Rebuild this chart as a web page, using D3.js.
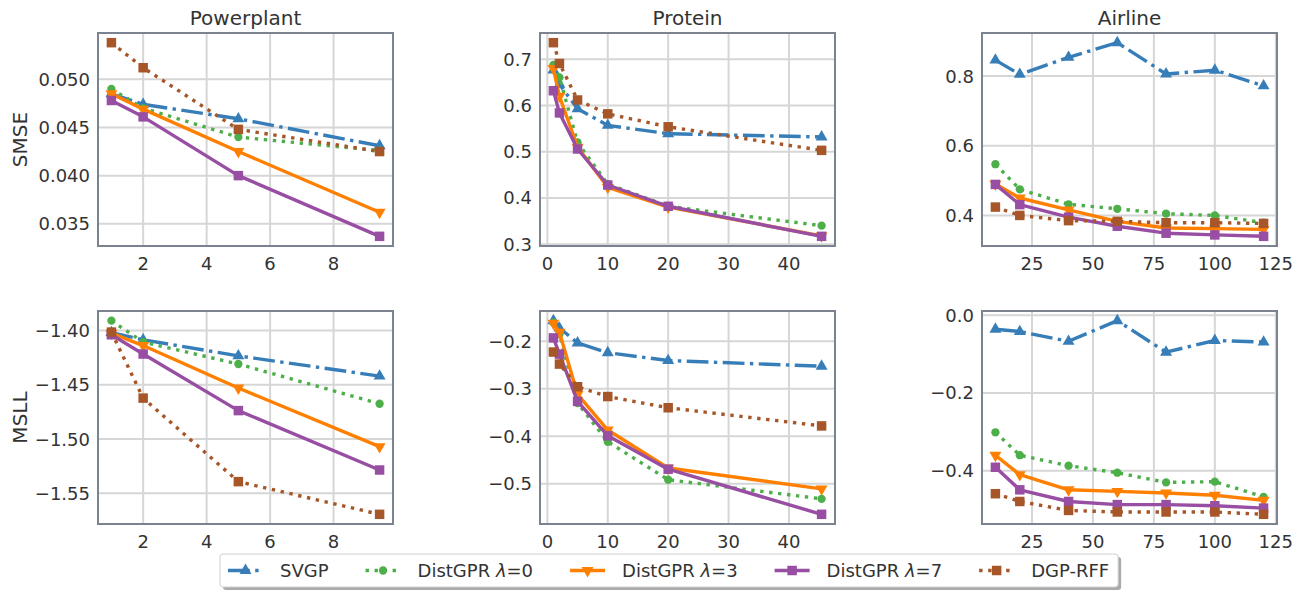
<!DOCTYPE html>
<html>
<head>
<meta charset="utf-8">
<script src="https://cdn.jsdelivr.net/npm/d3@7"></script>
<style>
  body { margin: 0; background: #fff; }
  svg text { font-family: "DejaVu Sans", sans-serif; fill: #333; }
</style>
</head>
<body>
<svg width="1302" height="590"></svg>
<script>
// series, in drawing order
const seriesNames = ["SVGP", "DistGPR λ=0", "DistGPR λ=3", "DistGPR λ=7", "DGP-RFF"];

const xPowerplant = [1, 2, 5, 9.45];
const xProtein = [1, 2, 5, 10, 20, 45.4];
const xAirline = [10, 20, 40, 60, 80, 100, 120];

// one row per series
const powerplantSMSE = [
  [0.0485, 0.0474, 0.0459, 0.0431],
  [0.0490, 0.0470, 0.0440, 0.0426],
  [0.0485, 0.0469, 0.0425, 0.0362],
  [0.0478, 0.0461, 0.0400, 0.0337],
  [0.0538, 0.0512, 0.0448, 0.0425]
];
const proteinSMSE = [
  [0.677, 0.646, 0.593, 0.557, 0.539, 0.532],
  [0.688, 0.661, 0.520, 0.430, 0.382, 0.340],
  [0.680, 0.620, 0.510, 0.423, 0.380, 0.318],
  [0.632, 0.584, 0.506, 0.428, 0.382, 0.317],
  [0.736, 0.691, 0.612, 0.582, 0.554, 0.503]
];
const airlineSMSE = [
  [0.846, 0.805, 0.854, 0.896, 0.806, 0.817, 0.772],
  [0.547, 0.475, 0.432, 0.419, 0.405, 0.400, 0.379],
  [0.490, 0.450, 0.416, 0.383, 0.364, 0.362, 0.360],
  [0.489, 0.431, 0.395, 0.369, 0.349, 0.344, 0.340],
  [0.424, 0.400, 0.385, 0.383, 0.379, 0.379, 0.377]
];
const powerplantMSLL = [
  [-1.402, -1.4086, -1.4234, -1.442],
  [-1.391, -1.4107, -1.4309, -1.4675],
  [-1.4025, -1.4139, -1.453, -1.507],
  [-1.404, -1.4217, -1.4738, -1.5285],
  [-1.4015, -1.4623, -1.5392, -1.5693]
];
const proteinMSLL = [
  [-0.1565, -0.172, -0.2034, -0.224, -0.2405, -0.2525],
  [-0.1607, -0.185, -0.330, -0.4117, -0.4917, -0.532],
  [-0.162, -0.181, -0.312, -0.387, -0.467, -0.511],
  [-0.1928, -0.2269, -0.3265, -0.3992, -0.4695, -0.5646],
  [-0.2226, -0.248, -0.2957, -0.3164, -0.340, -0.3783]
];
const airlineMSLL = [
  [-0.036, -0.042, -0.067, -0.014, -0.095, -0.065, -0.069],
  [-0.301, -0.360, -0.387, -0.405, -0.430, -0.428, -0.467],
  [-0.360, -0.410, -0.449, -0.453, -0.457, -0.463, -0.476],
  [-0.391, -0.449, -0.479, -0.487, -0.487, -0.490, -0.496],
  [-0.459, -0.479, -0.502, -0.506, -0.506, -0.506, -0.512]
];

const datasetTitles = ["Powerplant", "Protein", "Airline"];
const rowLabels = ["SMSE", "MSLL"];
const xTicksPowerplant = [2, 4, 6, 8];
const xTicksProtein = [0, 10, 20, 30, 40];
const xTicksAirline = [25, 50, 75, 100, 125];
const yTicksPowerplantSMSE = [0.035, 0.040, 0.045, 0.050];
const yTicksProteinSMSE = [0.3, 0.4, 0.5, 0.6, 0.7];
const yTicksAirlineSMSE = [0.4, 0.6, 0.8];
const yTicksPowerplantMSLL = [-1.55, -1.50, -1.45, -1.40];
const yTicksProteinMSLL = [-0.5, -0.4, -0.3, -0.2];
const yTicksAirlineMSLL = [-0.4, -0.2, 0.0];

const colors = ["#377eb8", "#4daf4a", "#ff7f00", "#984ea3", "#a65628"];
const lineW = 3.4;
const dashes = [
  [6.4, 1.6, 1, 1.6].map(v => v * lineW).join(','),
  [1, 1.65].map(v => v * lineW).join(','),
  null, null,
  [1, 1.65].map(v => v * lineW).join(',')
];
const symbols = [
  {type: d3.symbolTriangle, size: 62, rot: 0},
  {type: d3.symbolCircle, size: 54, rot: 0},
  {type: d3.symbolTriangle, size: 62, rot: 180},
  {type: d3.symbolSquare, size: 90, rot: 0},
  {type: d3.symbolSquare, size: 90, rot: 0}
];

const svg = d3.select('svg');
const colLeft = [98, 540, 982];
const rowTop = [33, 311];
const pw = 295, ph = 213;

const panels = [
  {row: 0, col: 0, x: xPowerplant, ys: powerplantSMSE, xt: xTicksPowerplant, yt: yTicksPowerplantSMSE, fmt: '.3f'},
  {row: 0, col: 1, x: xProtein, ys: proteinSMSE, xt: xTicksProtein, yt: yTicksProteinSMSE, fmt: '.1f'},
  {row: 0, col: 2, x: xAirline, ys: airlineSMSE, xt: xTicksAirline, yt: yTicksAirlineSMSE, fmt: '.1f'},
  {row: 1, col: 0, x: xPowerplant, ys: powerplantMSLL, xt: xTicksPowerplant, yt: yTicksPowerplantMSLL, fmt: '.2f'},
  {row: 1, col: 1, x: xProtein, ys: proteinMSLL, xt: xTicksProtein, yt: yTicksProteinMSLL, fmt: '.1f'},
  {row: 1, col: 2, x: xAirline, ys: airlineMSLL, xt: xTicksAirline, yt: yTicksAirlineMSLL, fmt: '.1f'}
];

// matplotlib style 5% margins
function padded(ext) {
  const m = (ext[1] - ext[0]) * 0.05;
  return [ext[0] - m, ext[1] + m];
}

function drawSeries(g, i, pts, markerPts) {
  const line = d3.line();
  g.append('path')
    .attr('d', line(pts))
    .attr('fill', 'none')
    .attr('stroke', colors[i])
    .attr('stroke-width', lineW)
    .attr('stroke-dasharray', dashes[i])
    .attr('stroke-linejoin', 'round');
  const sym = d3.symbol().type(symbols[i].type).size(symbols[i].size);
  g.selectAll(null).data(markerPts || pts).enter().append('path')
    .attr('d', sym)
    .attr('fill', colors[i])
    .attr('transform', p => `translate(${p[0]},${p[1]}) rotate(${symbols[i].rot})`);
}

panels.forEach(p => {
  const g = svg.append('g').attr('transform', `translate(${colLeft[p.col]},${rowTop[p.row]})`);
  const x = d3.scaleLinear().domain(padded(d3.extent(p.x))).range([0, pw]);
  const y = d3.scaleLinear().domain(padded(d3.extent(p.ys.flat()))).range([ph, 0]);

  // grid
  g.selectAll('.vg').data(p.xt).enter().append('line')
    .attr('x1', d => x(d)).attr('x2', d => x(d)).attr('y1', 0).attr('y2', ph)
    .attr('stroke', '#d6d6d6').attr('stroke-width', 2);
  g.selectAll('.hg').data(p.yt).enter().append('line')
    .attr('y1', d => y(d)).attr('y2', d => y(d)).attr('x1', 0).attr('x2', pw)
    .attr('stroke', '#d6d6d6').attr('stroke-width', 2);

  // tick labels
  const fmt = d3.format(p.fmt);
  g.selectAll('.xl').data(p.xt).enter().append('text')
    .attr('x', d => x(d)).attr('y', ph + 24)
    .attr('text-anchor', 'middle').style('font-size', '18px')
    .text(d => d);
  g.selectAll('.yl').data(p.yt).enter().append('text')
    .attr('x', -8).attr('y', d => y(d)).attr('dy', '0.36em')
    .attr('text-anchor', 'end').style('font-size', '18px')
    .text(d => fmt(d));

  p.ys.forEach((vals, i) => {
    drawSeries(g, i, vals.map((v, k) => [x(p.x[k]), y(v)]));
  });

  g.append('rect').attr('width', pw).attr('height', ph)
    .attr('fill', 'none').attr('stroke', '#7b8391').attr('stroke-width', 2);

  if (p.row === 0) {
    g.append('text').attr('x', pw / 2).attr('y', -8)
      .attr('text-anchor', 'middle').style('font-size', '20px')
      .text(datasetTitles[p.col]);
  }
  if (p.col === 0) {
    g.append('text')
      .attr('transform', `translate(${-71},${ph / 2}) rotate(-90)`)
      .attr('text-anchor', 'middle').style('font-size', '20px')
      .text(rowLabels[p.row]);
  }
});

// legend
const leg = svg.append('g');
const shadow = leg.append('rect');
const box = leg.append('rect');
const lx0 = 220, ly0 = 554, lh = 33;
let cx = lx0 + 8;
seriesNames.forEach((name, i) => {
  const cy = ly0 + lh / 2;
  drawSeries(leg.append('g'), i, [[cx, cy], [cx + 35, cy]], [[cx + 17.5, cy]]);
  const t = leg.append('text').attr('x', cx + 52).attr('y', cy).attr('dy', '0.36em')
    .style('font-size', '18px');
  const parts = name.split('λ');
  t.append('tspan').text(parts[0]);
  if (parts.length > 1) {
    t.append('tspan').style('font-style', 'italic').text('λ');
    t.append('tspan').text(parts[1]);
  }
  cx += 52 + t.node().getComputedTextLength() + 37;
});
const lw = cx - 37 + 9 - lx0;
shadow.attr('x', lx0 + 3).attr('y', ly0 + 3).attr('width', lw).attr('height', lh)
  .attr('rx', 3).attr('fill', '#aaa');
box.attr('x', lx0).attr('y', ly0).attr('width', lw).attr('height', lh)
  .attr('rx', 3).attr('fill', '#fff').attr('stroke', '#d0d0d0').attr('stroke-width', 1);
</script>
</body>
</html>
